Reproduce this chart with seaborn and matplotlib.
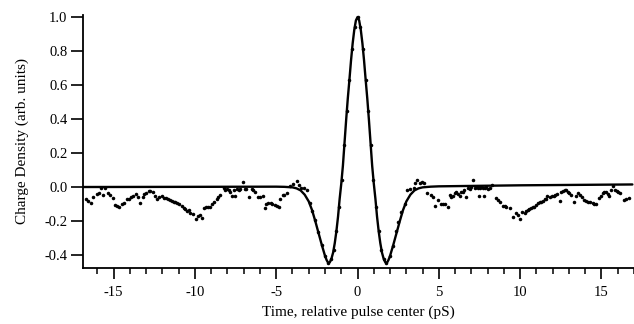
import matplotlib
matplotlib.use("Agg")
import matplotlib.pyplot as plt
import seaborn as sns
import pandas as pd
from matplotlib.ticker import MultipleLocator

# ---- data ----
fit_t = [-16.9, -10.0, -5.0, -4.5, -4.0, -3.75, -3.5, -3.25, -3.0, -2.8, -2.6, -2.4, -2.2,
         -2.0, -1.9, -1.8, -1.7, -1.6, -1.5, -1.4, -1.3, -1.2, -1.1, -1.0, -0.9, -0.8,
         -0.7, -0.6, -0.5, -0.4, -0.3, -0.2, -0.1, 0.0, 0.1, 0.2, 0.3, 0.4, 0.5, 0.6,
         0.7, 0.8, 0.9, 1.0, 1.1, 1.2, 1.3, 1.4, 1.5, 1.6, 1.7, 1.8, 1.9, 2.0, 2.2,
         2.4, 2.6, 2.8, 3.0, 3.25, 3.5, 3.75, 4.0, 4.5, 5.0, 10.0, 16.9]
fit_v = [0.0, 0.001, 0.002, 0.001, -0.002, -0.008, -0.02, -0.045, -0.085, -0.135, -0.2,
         -0.27, -0.34, -0.405, -0.43, -0.447, -0.442, -0.42, -0.385, -0.33, -0.26,
         -0.175, -0.07, 0.02, 0.125, 0.26, 0.395, 0.52, 0.63, 0.745, 0.845, 0.925,
         0.98, 1.0, 0.98, 0.925, 0.845, 0.745, 0.63, 0.52, 0.395, 0.26, 0.125, 0.02,
         -0.07, -0.175, -0.26, -0.33, -0.385, -0.42, -0.442, -0.447, -0.43, -0.405,
         -0.34, -0.27, -0.2, -0.135, -0.085, -0.045, -0.02, -0.008, -0.002, 0.002,
         0.004, 0.01, 0.015]

dots_left_t = [-16.7, -16.55, -16.4, -16.25, -16.05, -15.9, -15.75, -15.65, -15.5, -15.35,
               -15.2, -15.05, -14.93, -14.8, -14.65, -14.5, -14.37, -14.2, -14.05, -13.95,
               -13.8, -13.65, -13.5, -13.35, -13.2, -13.1, -12.98, -12.85, -12.74, -12.6,
               -12.45, -12.33, -12.2, -12.05, -11.92, -11.8, -11.65, -11.51, -11.4, -11.3,
               -11.2, -11.1, -10.95, -10.82, -10.69, -10.58, -10.48, -10.38, -10.28, -10.1,
               -9.91, -9.81, -9.71, -9.56, -9.42, -9.3, -9.18, -9.05, -8.95, -8.85, -8.64,
               -8.55, -8.44, -8.24, -8.13, -8.03, -7.93, -7.83, -7.72, -7.6, -7.52, -7.4,
               -7.3, -7.21, -7.05, -6.95, -6.85, -6.7, -6.5, -6.4, -6.28, -6.09, -5.99,
               -5.82, -5.72, -5.6, -5.48, -5.35, -5.27, -5.1, -4.95, -4.82, -4.74, -4.6,
               -4.5, -4.35, -4.15, -3.94, -3.74, -3.58, -3.45, -3.3, -3.12]
dots_left_v = [-0.07, -0.085, -0.092, -0.057, -0.041, -0.033, -0.004, -0.047, -0.005, -0.033,
               -0.045, -0.065, -0.106, -0.11, -0.116, -0.1, -0.096, -0.073, -0.07, -0.061,
               -0.05, -0.041, -0.06, -0.092, -0.06, -0.04, -0.033, -0.025, -0.022, -0.03,
               -0.05, -0.073, -0.06, -0.055, -0.067, -0.062, -0.07, -0.076, -0.082, -0.086,
               -0.09, -0.096, -0.1, -0.11, -0.125, -0.13, -0.139, -0.135, -0.151, -0.16,
               -0.188, -0.17, -0.165, -0.184, -0.125, -0.118, -0.12, -0.12, -0.1, -0.086,
               -0.073, -0.06, -0.047, -0.008, -0.015, -0.012, -0.02, -0.027, -0.053, -0.015,
               -0.053, -0.012, -0.015, -0.012, 0.031, -0.01, -0.014, -0.061, -0.014, -0.02,
               -0.03, -0.061, -0.057, -0.05, -0.125, -0.1, -0.096, -0.097, -0.1, -0.105,
               -0.11, -0.116, -0.07, -0.047, -0.045, -0.035, 0.004, 0.018, 0.035, 0.012,
               -0.005, -0.008, -0.018]

dots_mid_t = [-2.95, -2.8, -2.62, -2.42, -2.2, -2.0, -1.8, -1.63, -1.47, -1.3, -1.14, -0.98,
              -0.82, -0.66, -0.5, -0.34, -0.17, 0.0, 0.17, 0.33, 0.5, 0.66, 0.82, 0.98,
              1.14, 1.3, 1.46, 1.62, 1.78, 1.98, 2.18, 2.34, 2.5, 2.66, 2.9, 3.07]
dots_mid_v = [-0.096, -0.14, -0.195, -0.265, -0.34, -0.405, -0.447, -0.425, -0.37, -0.26,
              -0.12, 0.04, 0.245, 0.45, 0.63, 0.81, 0.94, 1.0, 0.94, 0.81, 0.63, 0.45,
              0.245, 0.04, -0.12, -0.26, -0.37, -0.425, -0.447, -0.405, -0.35, -0.26,
              -0.204, -0.145, -0.1, -0.018]

dots_right_t = [3.25, 3.48, 3.52, 3.66, 3.83, 3.95, 4.07, 4.3, 4.5, 4.62, 4.75, 4.95, 5.16,
                5.26, 5.36, 5.57, 5.67, 5.77, 5.87, 5.98, 6.08, 6.18, 6.28, 6.39, 6.49, 6.57,
                6.65, 6.79, 6.9, 7.0, 7.1, 7.2, 7.31, 7.39, 7.47, 7.54, 7.61, 7.69, 7.76,
                7.84, 7.92, 8.02, 8.12, 8.29, 8.53, 8.65, 8.78, 8.94, 9.05, 9.15, 9.35, 9.55,
                9.72, 9.85, 9.96, 10.13, 10.27, 10.37, 10.47, 10.55, 10.64, 10.76, 10.88,
                10.98, 11.09, 11.2, 11.29, 11.4, 11.5, 11.58, 11.66, 11.85, 11.95, 12.05,
                12.17, 12.28, 12.42, 12.52, 12.62, 12.73, 12.83, 12.93, 13.03, 13.15, 13.34,
                13.44, 13.54, 13.67, 13.81, 13.95, 14.05, 14.15, 14.3, 14.46, 14.57, 14.67,
                14.83, 14.95, 15.07, 15.18, 15.28, 15.38, 15.48, 15.6, 15.73, 15.83, 15.93,
                16.04, 16.14, 16.4, 16.5, 16.67]
dots_right_v = [-0.01, -0.004, 0.025, 0.041, 0.025, 0.03, 0.022, -0.033, -0.047, -0.06,
                -0.112, -0.076, -0.1, -0.098, -0.1, -0.116, -0.047, -0.06, -0.055, -0.035,
                -0.027, -0.04, -0.05, -0.03, -0.027, -0.02, -0.057, -0.008, -0.01, 0.0,
                0.041, -0.005, 0.0, -0.005, -0.05, -0.005, 0.0, -0.008, -0.05, -0.004, 0.0,
                -0.01, -0.004, 0.01, -0.067, -0.075, -0.086, -0.112, -0.11, -0.116, -0.125,
                -0.175, -0.155, -0.165, -0.188, -0.145, -0.155, -0.14, -0.135, -0.13,
                -0.125, -0.12, -0.116, -0.105, -0.096, -0.09, -0.086, -0.08, -0.073,
                -0.068, -0.053, -0.058, -0.055, -0.05, -0.045, -0.04, -0.08, -0.03, -0.022,
                -0.02, -0.018, -0.03, -0.037, -0.045, -0.086, -0.05, -0.037, -0.045, -0.057,
                -0.076, -0.08, -0.086, -0.09, -0.096, -0.1, -0.1, -0.067, -0.05, -0.037,
                -0.03, -0.027, -0.04, -0.05, -0.02, 0.008, -0.015, -0.022, -0.03, -0.037,
                -0.076, -0.07, -0.067]

x_ticks = [-15, -10, -5, 0, 5, 10, 15]
y_ticks = [-0.4, -0.2, 0.0, 0.2, 0.4, 0.6, 0.8, 1.0]
x_label = "Time, relative pulse center (pS)"
y_label = "Charge Density (arb. units)"

# ---- build tables ----
fit_df = pd.DataFrame({"t": fit_t, "v": fit_v})
dots_df = pd.DataFrame({"t": dots_left_t + dots_mid_t + dots_right_t,
                        "v": dots_left_v + dots_mid_v + dots_right_v})

sns.set_theme(style="ticks")
plt.rcParams["font.family"] = ["Liberation Serif", "DejaVu Serif"]
plt.rcParams["axes.unicode_minus"] = False

fig = plt.figure(figsize=(6.34, 3.24), dpi=100)
W, H = 634, 324
left_px, right_px, top_px, bot_px = 82.7, 634, 14.5, 268
ax = fig.add_axes([left_px / W, 1 - bot_px / H, (right_px - left_px) / W, (bot_px - top_px) / H])

sns.lineplot(data=fit_df, x="t", y="v", ax=ax, color="black", linewidth=1.7, sort=False)
sns.scatterplot(data=dots_df, x="t", y="v", ax=ax, color="black", s=6.5, linewidth=0,
                marker="o")

ax.set_xlim(-16.9, 17.0)
ax.set_ylim(-0.4765, 1.015)
ax.set_xticks(x_ticks)
ax.set_xticklabels([str(v) for v in x_ticks])
ax.xaxis.set_minor_locator(MultipleLocator(1))
ax.set_yticks(y_ticks)
ax.set_yticklabels([f"{v:.1f}" for v in y_ticks])

for s in ["top", "right"]:
    ax.spines[s].set_visible(False)
for s in ["left", "bottom"]:
    ax.spines[s].set_color("black")
    ax.spines[s].set_linewidth(1.3)

ax.tick_params(axis="x", which="major", direction="out", length=8, width=1.2,
               labelsize=10.5, pad=5, colors="black")
ax.tick_params(axis="x", which="minor", direction="out", length=4.5, width=1.1,
               colors="black")
ax.tick_params(axis="y", which="major", direction="out", length=9, width=1.2,
               labelsize=10.5, pad=2, colors="black")

ax.set_xlabel(x_label, fontsize=11, color="black", labelpad=5)
ax.set_ylabel(y_label, fontsize=11, color="black", labelpad=11)
ax.grid(False)
ax.set_facecolor("white")
fig.patch.set_facecolor("white")

fig.savefig("out.png", dpi=100)
